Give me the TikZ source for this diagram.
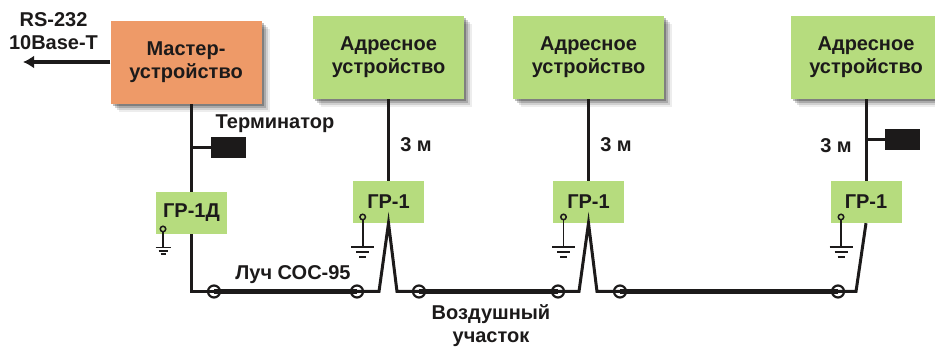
\documentclass[tikz,border=0pt]{standalone}
\usepackage{fontspec}
\setmainfont{Liberation Sans}
\usetikzlibrary{shadows}
\usetikzlibrary{arrows.meta}
\definecolor{masterOrange}{HTML}{EE9A68}
\definecolor{unitGreen}{HTML}{B6DC7E}
\definecolor{inkBlack}{HTML}{1C1A1A}
\tikzset{
	lbl/.style={font=\fontsize{20}{23}\selectfont\bfseries, text=inkBlack, align=center, inner sep=0pt},
	softshadow/.style={
		drop shadow={shadow xshift=8pt, shadow yshift=-8pt, fill=black, opacity=0.07},
		drop shadow={shadow xshift=6pt, shadow yshift=-6pt, fill=black, opacity=0.12},
		drop shadow={shadow xshift=4pt, shadow yshift=-4pt, fill=black, opacity=0.18},
		drop shadow={shadow xshift=2pt, shadow yshift=-2pt, fill=black, opacity=0.25}},
	bigbox/.style={lbl, minimum width=151pt, minimum height=83pt, softshadow},
	grbox/.style={lbl, fill=unitGreen, minimum width=71pt, minimum height=42pt},
	termbox/.style={fill=inkBlack, minimum width=35pt, minimum height=21pt, inner sep=0pt},
	wire/.style={draw=inkBlack, line width=3pt, line join=miter},
	airline/.style={draw=inkBlack, line width=4.4pt},
	ring/.style={circle, draw=inkBlack, line width=2.2pt, minimum size=12pt, inner sep=0pt},
	pin/.style={circle, draw=inkBlack, line width=1.5pt, fill=unitGreen, minimum size=5.5pt, inner sep=0pt},
	earth/.style={draw=inkBlack, line width=1.8pt}
}
\begin{document}
\begin{tikzpicture}[x=1pt, y=-1pt]
	\useasboundingbox (0,0) rectangle (935,347);
	% top row
	\node[bigbox, fill=masterOrange] (master) at (186,62.5) {Мастер-\\устройство};
	\node[bigbox, fill=unitGreen] (unitA) at (388.5,57.5) {Адресное\\устройство};
	\node[bigbox, fill=unitGreen] (unitB) at (588.5,57.5) {Адресное\\устройство};
	\node[bigbox, fill=unitGreen] (unitC) at (866,57.5) {Адресное\\устройство};
	% repeaters
	\node[grbox] (grD) at (191.5,213) {ГР-1Д};
	\node[grbox] (grA) at (388.5,202) {ГР-1};
	\node[grbox] (grB) at (588.5,202) {ГР-1};
	\node[grbox] (grC) at (866,202) {ГР-1};
	% terminators
	\node[termbox] (termA) at (228.5,147.5) {};
	\node[termbox] (termC) at (902.5,139.5) {};
	% labels
	\node[lbl] (ifaces) at (53.5,31.5) {RS-232\\10Base-T};
	\node[lbl] (termtext) at (275,124) {Терминатор};
	\node[lbl] (beam) at (293,274.5) {Луч СОС-95};
	\node[lbl] (air) at (491,326) {Воздушный\\участок};
	\node[lbl] (lenA) at (416,145) {3 м};
	\node[lbl] (lenB) at (616,145) {3 м};
	\node[lbl] (lenC) at (836,146) {3 м};
	% bends of the beam
	\coordinate (cornerD) at (191.5,291.5);
	\coordinate (legAl) at (379,291.5);
	\coordinate (legAr) at (397,291.5);
	\coordinate (legBl) at (579,291.5);
	\coordinate (legBr) at (597,291.5);
	\coordinate (legCl) at (856,291.5);
	\coordinate (arrowEnd) at (23,62);
	\coordinate (tapD) at (191.5,147.5);
	\coordinate (tapC) at (866,139.5);
	% rings on the beam
	\foreach \name/\xpos in {ringA/214, ringB/357, ringC/419, ringD/558, ringE/620, ringF/838}
		\node[ring] (\name) at (\xpos,291.5) {};
	% wires
	\draw[airline, -{Latex[length=11pt,width=13pt]}] (master.west |- arrowEnd) -- (arrowEnd);
	\draw[wire] (master.south -| grD) -- (grD.north);
	\draw[wire] (tapD) -- (termA.west);
	\draw[wire] (grD.south) -- (cornerD) -- (ringA.center);
	\draw[airline] (ringA.center) -- (ringB.center);
	\draw[wire] (ringB.center) -- (legAl) -- (grA.south) -- (legAr) -- (ringC.center);
	\draw[airline] (ringC.center) -- (ringD.center);
	\draw[wire] (ringD.center) -- (legBl) -- (grB.south) -- (legBr) -- (ringE.center);
	\draw[airline] (ringE.center) -- (ringF.center);
	\draw[wire] (ringF.center) -- (legCl) -- (grC.south);
	\draw[wire] (unitA.south) -- (grA.north);
	\draw[wire] (unitB.south) -- (grB.north);
	\draw[wire] (unitC.south) -- (grC.north);
	\draw[wire] (tapC) -- (termC.west);
	% earth pins
	\node[pin] (pinD) at (163,229) {};
	\draw[earth] (pinD) -- ++(0,18.5) ++(-7.5,0) -- ++(15,0) ++(-12,3.5) -- ++(9,0) ++(-7,3) -- ++(5,0);
	\foreach \name/\xpos in {pinA/362.7, pinB/563.5, pinC/841}{
		\node[pin] (\name) at (\xpos,217) {};
		\draw[earth] (\name) -- ++(0,30) ++(-11.5,0) -- ++(23,0) ++(-18,5) -- ++(13,0) ++(-10,5) -- ++(7,0);
	}
\end{tikzpicture}
\end{document}
